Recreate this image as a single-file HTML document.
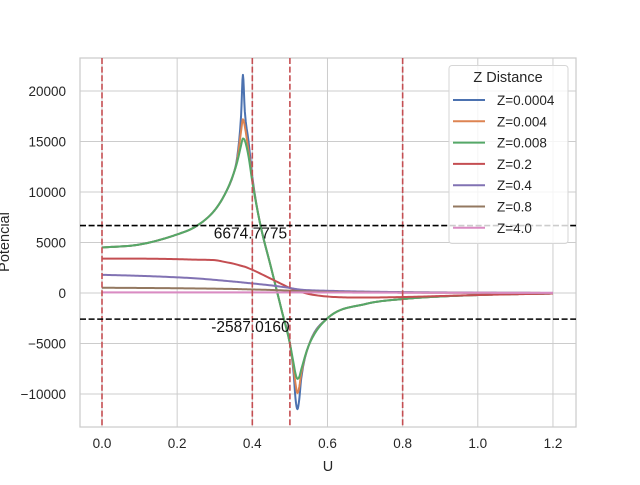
<!DOCTYPE html>
<html><head><meta charset="utf-8"><style>
body{margin:0;background:#fff}
svg{font-family:"Liberation Sans",sans-serif}
</style></head><body>
<svg id="c" width="640" height="480" viewBox="0 0 640 480"></svg>
<script>
const xs=[0,0.1,0.2,0.25,0.3,0.33,0.35,0.36,0.37,0.375,0.38,0.39,0.4,0.42,0.45,0.48,0.5,0.51,0.515,0.52,0.525,0.53,0.55,0.6,0.7,0.8,1.0,1.2];
const sBlue=[4500,4800,5800,6600,8200,10000,11800,13500,17500,21600,18000,15000,11500,7000,2500,-2000,-5000,-8000,-10500,-11500,-10500,-8500,-5200,-2500,-1100,-600,-200,-50];
const sOrange=[4500,4800,5800,6600,8200,10000,11800,13200,16000,17200,16500,14000,11200,7000,2500,-2000,-5000,-7500,-9000,-9900,-9300,-8000,-5200,-2500,-1100,-600,-200,-50];
const sGreen=[4500,4800,5800,6600,8200,10000,11800,13000,14600,15300,15100,13500,11000,7000,2500,-2000,-5000,-7000,-8000,-8500,-8300,-7600,-5200,-2500,-1100,-600,-200,-50];
const sRed=[3400,3400,3350,3300,3250,3050,2900,2800,2700,2650,2600,2450,2300,1950,1400,850,500,350,280,200,150,100,-100,-350,-450,-400,-200,-50];
const sPurple=[1800,1700,1550,1450,1300,1200,1130,1100,1060,1040,1020,980,950,870,750,600,500,430,400,370,350,330,280,220,140,90,40,10];
const sBrown=[520,500,470,450,430,410,400,390,380,375,370,360,350,330,300,260,230,210,200,190,180,170,150,110,70,40,15,5];
const sPink=[60,60,60,60,60,60,60,60,60,60,60,60,60,60,60,60,60,60,60,60,60,60,60,50,40,30,20,10];
const seriesNames=["Z=0.0004","Z=0.004","Z=0.008","Z=0.2","Z=0.4","Z=0.8","Z=4.0"];
const seriesColors=["#4c72b0","#dd8452","#55a868","#c44e52","#8172b3","#937860","#da8bc3"];
const seriesData=[sBlue,sOrange,sGreen,sRed,sPurple,sBrown,sPink];
const xTicks=[0,0.2,0.4,0.6,0.8,1.0,1.2];
const yTicks=[-10000,-5000,0,5000,10000,15000,20000];
const vLines=[0,0.4,0.5,0.8];
const hLines=[6674.7775,-2587.0160];
const hLabels=["6674.7775","-2587.0160"];

const L=80,R=576,T=58,B=427;
const X=v=>102+v*375.8;
const Y=v=>293-v*0.0101;
const NS="http://www.w3.org/2000/svg";
const svg=document.getElementById('c');
function mk(t,a,p){const e=document.createElementNS(NS,t);for(const k in a)e.setAttribute(k,a[k]);(p||svg).appendChild(e);return e;}

function smoothPts(x,y){
  const n=x.length,d=[],m=new Array(n);
  for(let i=0;i<n-1;i++)d.push((y[i+1]-y[i])/(x[i+1]-x[i]));
  m[0]=d[0];m[n-1]=d[n-2];
  for(let i=1;i<n-1;i++){m[i]=(d[i-1]*d[i]<=0)?0:(d[i-1]+d[i])/2;}
  for(let i=0;i<n-1;i++){
    if(d[i]===0){m[i]=0;m[i+1]=0;continue;}
    const a=m[i]/d[i],b=m[i+1]/d[i],s=a*a+b*b;
    if(s>9){const t=3/Math.sqrt(s);m[i]=t*a*d[i];m[i+1]=t*b*d[i];}
  }
  const out=[];
  for(let i=0;i<n-1;i++){
    const h=x[i+1]-x[i],steps=Math.max(4,Math.ceil(h*375.8/2));
    for(let k=0;k<steps;k++){
      const t=k/steps,t2=t*t,t3=t2*t;
      const v=(2*t3-3*t2+1)*y[i]+(t3-2*t2+t)*h*m[i]+(-2*t3+3*t2)*y[i+1]+(t3-t2)*h*m[i+1];
      out.push([x[i]+t*h,v]);
    }
  }
  out.push([x[n-1],y[n-1]]);
  return out;
}

const bg=mk('rect',{x:L,y:T,width:R-L,height:B-T,fill:'#fff'});


xTicks.forEach(t=>{
  const g=mk('line',{x1:X(t),x2:X(t),y1:T,y2:B,stroke:'#cccccc','stroke-width':1});
  
  
  const tx=mk('text',{x:X(t),y:B+21,'text-anchor':'middle','font-size':13.5,fill:'#262626'});
  tx.textContent=t.toFixed(1);
  
  
});
yTicks.forEach(t=>{
  const g=mk('line',{x1:L,x2:R,y1:Y(t),y2:Y(t),stroke:'#cccccc','stroke-width':1});
  
  
  const tx=mk('text',{x:66,y:Y(t)+5,'text-anchor':'end','font-size':13.5,fill:'#262626'});
  tx.textContent=t<0?'\u2212'+(-t):String(t);
  
  
});
const fr=mk('rect',{x:L,y:T,width:R-L,height:B-T,fill:'none',stroke:'#cccccc','stroke-width':1.25});



seriesData.forEach((s,i)=>{
  const pts=smoothPts(xs,s);
  const d=pts.map((p,j)=>(j?'L':'M')+X(p[0]).toFixed(2)+','+Y(p[1]).toFixed(2)).join('');
  const p=mk('path',{d:d,fill:'none',stroke:seriesColors[i],'stroke-width':2,'stroke-linejoin':'round'});
  
  
});
vLines.forEach(v=>{
  const l=mk('line',{x1:X(v),x2:X(v),y1:T,y2:B,stroke:'#c44e52','stroke-width':1.6,'stroke-dasharray':'6,2.6'});
  
  
});
hLines.forEach((v,i)=>{
  const l=mk('line',{x1:L,x2:R,y1:Y(v),y2:Y(v),stroke:'#000','stroke-width':1.6,'stroke-dasharray':'6,2.6'});
  
  
  const t=mk('text',{x:X(0.395),y:Y(v)+13,'text-anchor':'middle','font-size':15.5,fill:'#111'});
  t.textContent=hLabels[i];
  
  
});

const lg=mk('g',{});


mk('rect',{x:449,y:65.5,width:119,height:178,rx:3,fill:'#fff','fill-opacity':0.8,stroke:'#d6d6d6'},lg);
const lt=mk('text',{x:508,y:82,'text-anchor':'middle','font-size':14.5,fill:'#262626'},lg);
lt.textContent='Z Distance';


seriesNames.forEach((n,i)=>{
  const y=100+i*21.3;
  const e=mk('g',{},lg);
  
  
  mk('line',{x1:453,x2:485,y1:y,y2:y,stroke:seriesColors[i],'stroke-width':2},e);
  const t=mk('text',{x:497,y:y+5,'font-size':13.5,fill:'#262626'},e);
  t.textContent=n;
});

const xl=mk('text',{x:328,y:471,'text-anchor':'middle','font-size':14.5,fill:'#262626'});
xl.textContent='U';


const yl=mk('text',{x:0,y:0,'text-anchor':'middle','font-size':14.5,fill:'#262626',transform:'translate(9,242) rotate(-90)'});
yl.textContent='Potencial';


</script>
</body></html>
